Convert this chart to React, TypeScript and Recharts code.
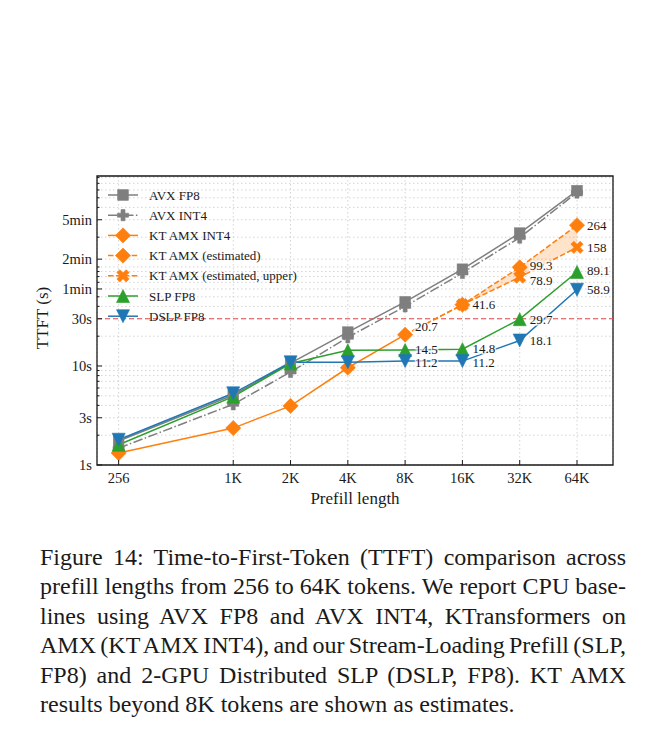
import { Area, CartesianGrid, ComposedChart, Line, ReferenceArea, ReferenceLine, XAxis, YAxis } from 'recharts'

// prefill length in tokens
const tokens = [256, 1024, 2048, 4096, 8192, 16384, 32768, 65536]
const xTickLabels = ['256', '1K', '2K', '4K', '8K', '16K', '32K', '64K']

// TTFT in seconds
const avxFp8 = [1.75, 5.1, 10.7, 22.0, 44.4, 95, 220, 590]
const avxInt4 = [1.48, 4.1, 8.7, 19.5, 40, 87, 198, 565]
const ktAmxInt4 = [1.32, 2.36, 3.95, 9.6, 20.7, null, null, null]
const ktAmxEst = [null, null, null, null, 20.7, 41.6, 99.3, 264]
const ktAmxUpper = [null, null, null, null, 20.7, 41.6, 78.9, 158]
const slpFp8 = [1.6, 4.9, 10.6, 14.4, 14.5, 14.8, 29.7, 89.1]
const dslpFp8 = [1.8, 5.3, 10.9, 10.9, 11.2, 11.2, 18.1, 58.9]

// which points get a value printed next to them
const ktAmxInt4Labeled = [8192]
const ktAmxEstLabeled = [16384, 32768, 65536]
const ktAmxUpperLabeled = [32768, 65536]
const slpLabeled = [8192, 16384, 32768, 65536]
const dslpLabeled = [8192, 16384, 32768, 65536]

const yTicks = [1, 2, 3, 4, 5, 6, 7, 8, 9, 10, 20, 30, 40, 50, 60, 70, 80, 90, 100, 120, 200, 300, 400, 500, 600, 700, 800]
const yTickLabels: Record<number, string> = { 1: '1s', 3: '3s', 10: '10s', 30: '30s', 60: '1min', 120: '2min', 300: '5min' }
const sloSeconds = 30

const xDomain = [197, 101300]
const yDomain = [1, 830]

const GRAY = '#7f7f7f'
const ORANGE = '#ff7f0e'
const GREEN = '#2ca02c'
const BLUE = '#1f77b4'
const INK = '#1a1a1a'
const FONT = '"Liberation Serif", "Times New Roman", serif'
const DASHED = '5.5 2.4'
const DASH_DOT = '9.6 2.4 1.5 2.4'

const rows = tokens.map((t, i) => ({
  tokens: t,
  avxFp8: avxFp8[i],
  avxInt4: avxInt4[i],
  ktAmxInt4: ktAmxInt4[i],
  ktAmxEst: ktAmxEst[i],
  ktAmxUpper: ktAmxUpper[i],
  band: ktAmxEst[i] != null ? [ktAmxUpper[i], ktAmxEst[i]] : null,
  slpFp8: slpFp8[i],
  dslpFp8: dslpFp8[i],
}))

type Shape = 'square' | 'plus' | 'diamond' | 'cross' | 'up' | 'down'

const plusPoints = (a: number, b: number) =>
  [[-b, -a], [b, -a], [b, -b], [a, -b], [a, b], [b, b], [b, a], [-b, a], [-b, b], [-a, b], [-a, -b], [-b, -b]]
    .map(([x, y]) => `${x},${y}`)
    .join(' ')

const Marker = ({ shape, cx, cy, color }: { shape: Shape; cx: number; cy: number; color: string }) => {
  const common = { fill: color, stroke: color, strokeWidth: 0.6 }
  switch (shape) {
    case 'square':
      return <rect x={cx - 5.3} y={cy - 5.3} width={10.6} height={10.6} {...common} />
    case 'plus':
      return <polygon transform={`translate(${cx},${cy})`} points={plusPoints(5.6, 2)} {...common} />
    case 'cross':
      return <polygon transform={`translate(${cx},${cy}) rotate(45)`} points={plusPoints(6.6, 2.1)} {...common} />
    case 'diamond':
      return <polygon points={`${cx},${cy - 7.6} ${cx + 7.6},${cy} ${cx},${cy + 7.6} ${cx - 7.6},${cy}`} {...common} />
    case 'up':
      return <polygon points={`${cx},${cy - 6.5} ${cx + 6.5},${cy + 6.5} ${cx - 6.5},${cy + 6.5}`} {...common} />
    case 'down':
      return <polygon points={`${cx},${cy + 6.5} ${cx + 6.5},${cy - 6.5} ${cx - 6.5},${cy - 6.5}`} {...common} />
  }
}

// estimated series only get markers where no measurement exists
const dotFor = (shape: Shape, color: string, estimateOnly = false) => (props: any) => {
  const { cx, cy, index, value, payload } = props
  const key = `dot-${shape}-${estimateOnly ? 'e' : 'm'}-${index}`
  if (cx == null || cy == null || value == null || (estimateOnly && payload?.ktAmxInt4 != null)) return <g key={key} />
  return (
    <g key={key}>
      <Marker shape={shape} cx={cx} cy={cy} color={color} />
    </g>
  )
}

const labelFor = (labeled: number[], nudge: Record<number, number> = {}) => (props: any) => {
  const { x, y, value, index } = props
  const t = tokens[index]
  if (value == null || !labeled.includes(t)) return <g key={`lbl-${index}`} />
  return (
    <text
      key={`lbl-${index}`}
      x={x + 10}
      y={y + (nudge[t] ?? 0)}
      dominantBaseline="central"
      fontSize={13}
      fontFamily={FONT}
      fill={INK}
      stroke="rgba(255,255,255,0.75)"
      strokeWidth={3}
      paintOrder="stroke"
    >
      {value}
    </text>
  )
}

// ticks point into the plot, matplotlib style
const YTick = (props: any) => {
  const { x, y, payload } = props
  const axisX = x + 5
  const label = yTickLabels[payload.value]
  return (
    <g>
      <line x1={axisX} x2={axisX + (label ? 5 : 2.5)} y1={y} y2={y} stroke={INK} strokeWidth={1} />
      {label && (
        <text x={x} y={y} textAnchor="end" dominantBaseline="central" fontSize={14.5} fontFamily={FONT} fill={INK}>
          {label}
        </text>
      )}
    </g>
  )
}

const XTick = (props: any) => {
  const { x, y, payload } = props
  const axisY = y - 6
  const label = xTickLabels[tokens.indexOf(payload.value)]
  return (
    <g>
      <line x1={x} x2={x} y1={axisY} y2={axisY - 5} stroke={INK} strokeWidth={1} />
      <text x={x} y={axisY + 13} textAnchor="middle" dominantBaseline="central" fontSize={14.5} fontFamily={FONT} fill={INK}>
        {label}
      </text>
    </g>
  )
}

const legendItems: { name: string; color: string; shape: Shape; dash?: string }[] = [
  { name: 'AVX FP8', color: GRAY, shape: 'square' },
  { name: 'AVX INT4', color: GRAY, shape: 'plus', dash: DASH_DOT },
  { name: 'KT AMX INT4', color: ORANGE, shape: 'diamond' },
  { name: 'KT AMX (estimated)', color: ORANGE, shape: 'diamond', dash: DASHED },
  { name: 'KT AMX (estimated, upper)', color: ORANGE, shape: 'cross', dash: DASHED },
  { name: 'SLP FP8', color: GREEN, shape: 'up' },
  { name: 'DSLP FP8', color: BLUE, shape: 'down' },
]

const ChartLegend = () => (
  <g transform="translate(100, 187)">
    {legendItems.map((item, i) => (
      <g key={item.name} transform={`translate(0, ${i * 20.2})`}>
        <line x1={0} x2={30} y1={0} y2={0} stroke={item.color} strokeWidth={1.5} strokeDasharray={item.dash} />
        <Marker shape={item.shape} cx={15} cy={0} color={item.color} />
        <text x={41} y={0} dominantBaseline="central" fontSize={13} fontFamily={FONT} fill={INK}>
          {item.name}
        </text>
      </g>
    ))}
  </g>
)

const captionLines = [
  'Figure 14: Time-to-First-Token (TTFT) comparison across',
  'prefill lengths from 256 to 64K tokens. We report CPU base-',
  'lines using AVX FP8 and AVX INT4, KTransformers on',
  'AMX (KT AMX INT4), and our Stream-Loading Prefill (SLP,',
  'FP8) and 2-GPU Distributed SLP (DSLP, FP8). KT AMX',
  'results beyond 8K tokens are shown as estimates.',
]

const TtftChart = () => (
  <ComposedChart width={638} height={510} data={rows} margin={{ top: 168, right: 33, bottom: 23, left: 29 }}>
    <CartesianGrid stroke="#c9c9c9" strokeDasharray="1.5 2.5" strokeWidth={0.8} />
    <XAxis
      dataKey="tokens"
      type="number"
      scale="log"
      domain={xDomain}
      allowDataOverflow
      ticks={tokens}
      interval={0}
      height={30}
      axisLine={false}
      tickLine={false}
      tickSize={0}
      tickMargin={6}
      tick={XTick}
    />
    <YAxis
      type="number"
      scale="log"
      domain={yDomain}
      allowDataOverflow
      ticks={yTicks}
      interval={0}
      width={60}
      axisLine={false}
      tickLine={false}
      tickSize={0}
      tickMargin={5}
      tick={YTick}
    />
    <ReferenceLine y={sloSeconds} stroke="#e5484d" strokeDasharray="5 3" strokeWidth={1.2} />
    <Area dataKey="band" stroke="none" fill={ORANGE} fillOpacity={0.22} isAnimationActive={false} />
    <Line dataKey="avxFp8" stroke={GRAY} strokeWidth={1.5} dot={dotFor('square', GRAY)} isAnimationActive={false} />
    <Line dataKey="avxInt4" stroke={GRAY} strokeWidth={1.5} strokeDasharray={DASH_DOT} dot={dotFor('plus', GRAY)} isAnimationActive={false} />
    <Line dataKey="ktAmxInt4" stroke={ORANGE} strokeWidth={1.5} dot={dotFor('diamond', ORANGE)} label={labelFor(ktAmxInt4Labeled, { 8192: -8 })} isAnimationActive={false} />
    <Line dataKey="ktAmxEst" stroke={ORANGE} strokeWidth={1.5} strokeDasharray={DASHED} dot={dotFor('diamond', ORANGE, true)} label={labelFor(ktAmxEstLabeled, { 32768: -2 })} isAnimationActive={false} />
    <Line dataKey="ktAmxUpper" stroke={ORANGE} strokeWidth={1.5} strokeDasharray={DASHED} dot={dotFor('cross', ORANGE, true)} label={labelFor(ktAmxUpperLabeled, { 32768: 3 })} isAnimationActive={false} />
    <Line dataKey="slpFp8" stroke={GREEN} strokeWidth={1.5} dot={dotFor('up', GREEN)} label={labelFor(slpLabeled, { 8192: -1, 16384: -1, 65536: -1 })} isAnimationActive={false} />
    <Line dataKey="dslpFp8" stroke={BLUE} strokeWidth={1.5} dot={dotFor('down', BLUE)} label={labelFor(dslpLabeled, { 8192: 1, 16384: 1 })} isAnimationActive={false} />
    <ReferenceArea x1={xDomain[0]} x2={xDomain[1]} y1={yDomain[0]} y2={yDomain[1]} fill="none" stroke={INK} strokeWidth={1.3} strokeOpacity={1} ifOverflow="visible" />
  </ComposedChart>
)

export default function App() {
  return (
    <div style={{ position: 'relative', width: 638, height: 721, fontFamily: FONT, color: INK }}>
      <TtftChart />
      <svg width={638} height={510} style={{ position: 'absolute', left: 0, top: 0, pointerEvents: 'none' }}>
        <text x={34} y={310} transform="rotate(-90 34 310)" textAnchor="middle" dominantBaseline="central" fontSize={17} fontFamily={FONT} fill={INK}>
          TTFT (s)
        </text>
        <text x={347} y={490} textAnchor="middle" dominantBaseline="central" fontSize={17} fontFamily={FONT} fill={INK}>
          Prefill length
        </text>
        <ChartLegend />
      </svg>
      <div style={{ position: 'absolute', left: 32, top: 535, width: 586, fontSize: 24, lineHeight: '29.4px' }}>
        {captionLines.map((line, i) => (
          <div
            key={i}
            style={{
              whiteSpace: 'nowrap',
              wordSpacing: i < captionLines.length - 1 ? -3 : 0,
              textAlign: 'justify',
              textAlignLast: i < captionLines.length - 1 ? 'justify' : 'left',
            }}
          >
            {line}
          </div>
        ))}
      </div>
    </div>
  )
}
